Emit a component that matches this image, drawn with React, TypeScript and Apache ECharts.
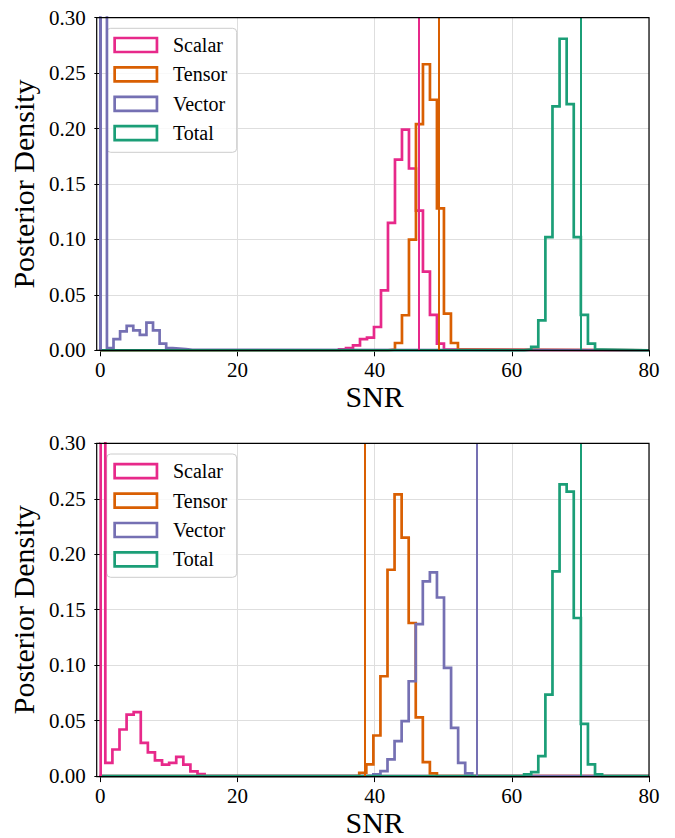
import React, { useEffect, useRef } from "react";
import * as echarts from "echarts";

// ---------- data ----------
const COMPONENTS = ["Scalar", "Tensor", "Vector", "Total"];
const COLORS = ["#e7298a", "#d95f02", "#7570b3", "#1b9e77"];
const X_MIN = 0;
const X_MAX = 80;
const X_STEP = 20;
const Y_MIN = 0;
const Y_MAX = 0.3;
const Y_STEP = 0.05;

// Top panel: histogram bins (first edge, bin width) and densities
const TOP_SCALAR_EDGE0 = 34.8;
const TOP_SCALAR_BINW = 1.02;
const TOP_SCALAR = [0.0009, 0.002, 0.0045, 0.01, 0.0114, 0.021, 0.054, 0.115, 0.172, 0.199, 0.164, 0.126, 0.071, 0.032, 0.006, 0.0006];

const TOP_TENSOR_EDGE0 = 41.94;
const TOP_TENSOR_BINW = 1.02;
const TOP_TENSOR = [0.0006, 0.0066, 0.0316, 0.0999, 0.204, 0.258, 0.226, 0.128, 0.033, 0.0066, 0.0006];

const TOP_VECTOR_EDGE0 = 0;
const TOP_VECTOR_BINW = 0.96;
const TOP_VECTOR = [0.89, 0.002, 0.01, 0.017, 0.022, 0.018, 0.014, 0.025, 0.018, 0.006, 0.002, 0.0015, 0.001, 0.0005];

const TOP_TOTAL_EDGE0 = 61.79;
const TOP_TOTAL_BINW = 1.034;
const TOP_TOTAL = [0.0006, 0.003, 0.027, 0.102, 0.22, 0.281, 0.222, 0.102, 0.032, 0.006, 0.0006];

// Top panel: true values
const TOP_TRUTH = [46.45, 49.35, 0.0, 70.0];

// Bottom panel
const BOT_SCALAR_EDGE0 = -0.31;
const BOT_SCALAR_BINW = 1.034;
const BOT_SCALAR = [0.65, 0.012, 0.024, 0.042, 0.0555, 0.0576, 0.03, 0.0214, 0.0142, 0.0103, 0.0119, 0.0173, 0.0103, 0.0043, 0.0018];

const BOT_TENSOR_EDGE0 = 37.75;
const BOT_TENSOR_BINW = 1.03;
const BOT_TENSOR = [0.003, 0.0105, 0.0366, 0.09, 0.186, 0.254, 0.215, 0.138, 0.053, 0.0126, 0.0024];

const BOT_VECTOR_EDGE0 = 38.78;
const BOT_VECTOR_BINW = 1.03;
const BOT_VECTOR = [0.0005, 0.0015, 0.0045, 0.015, 0.0315, 0.0495, 0.0855, 0.137, 0.1755, 0.1836, 0.161, 0.0975, 0.0435, 0.012, 0.0024];

const BOT_TOTAL_EDGE0 = 61.79;
const BOT_TOTAL_BINW = 1.034;
const BOT_TOTAL = [0.0015, 0.0036, 0.018, 0.0735, 0.1845, 0.263, 0.2565, 0.1425, 0.047, 0.0105, 0.0015];

const BOT_TRUTH = [0.0, 38.6, 54.9, 70.0];

// ---------- layout ----------
const W = 675;
const H = 838;
const GRID_LEFT = 96.7;
const GRID_W = 552.3;
const PANELS = [
  { top: 17.7, height: 332.6, legendTop: 35, boxTop: 28.3, boxH: 124 },
  { top: 443.3, height: 333.4, legendTop: 461.2, boxTop: 454, boxH: 123.3 },
];
const FONT = "'Liberation Serif', 'DejaVu Serif', serif";

function stepPoints(edge0: number, binw: number, dens: number[]) {
  const pts: number[][] = [[X_MIN, 0], [edge0, 0]];
  dens.forEach((d, i) => {
    const a = edge0 + i * binw;
    pts.push([a, d], [a + binw, d]);
  });
  pts.push([edge0 + dens.length * binw, 0], [X_MAX, 0]);
  return pts;
}

function buildOption() {
  const hist = [
    [
      [TOP_SCALAR_EDGE0, TOP_SCALAR_BINW, TOP_SCALAR],
      [TOP_TENSOR_EDGE0, TOP_TENSOR_BINW, TOP_TENSOR],
      [TOP_VECTOR_EDGE0, TOP_VECTOR_BINW, TOP_VECTOR],
      [TOP_TOTAL_EDGE0, TOP_TOTAL_BINW, TOP_TOTAL],
    ],
    [
      [BOT_SCALAR_EDGE0, BOT_SCALAR_BINW, BOT_SCALAR],
      [BOT_TENSOR_EDGE0, BOT_TENSOR_BINW, BOT_TENSOR],
      [BOT_VECTOR_EDGE0, BOT_VECTOR_BINW, BOT_VECTOR],
      [BOT_TOTAL_EDGE0, BOT_TOTAL_BINW, BOT_TOTAL],
    ],
  ] as any[];
  const truths = [TOP_TRUTH, BOT_TRUTH];

  const series: any[] = [];
  PANELS.forEach((_, p) => {
    COMPONENTS.forEach((name, k) => {
      const [e0, bw, d] = hist[p][k];
      series.push({
        type: "line",
        name,
        xAxisIndex: p,
        yAxisIndex: p,
        data: stepPoints(e0, bw, d),
        symbol: "none",
        showSymbol: false,
        clip: true,
        silent: true,
        z: 2,
        itemStyle: { color: COLORS[k] },
        lineStyle: { color: COLORS[k], width: 2.7, join: "miter" },
      });
    });
    series.push({
      type: "line",
      name: "truth" + p,
      xAxisIndex: p,
      yAxisIndex: p,
      data: [],
      silent: true,
      z: 3,
      markLine: {
        silent: true,
        symbol: "none",
        animation: false,
        label: { show: false },
        data: truths[p].map((v, k) => ({
          xAxis: v,
          lineStyle: { color: COLORS[k], width: 2, type: "solid" },
        })),
      },
    });
  });

  const legendData = COMPONENTS.map((name, k) => ({
    name,
    icon: "rect",
    itemStyle: { color: "rgba(0,0,0,0)", borderColor: COLORS[k], borderWidth: 2.7 },
  }));

  const graphic: any[] = [];
  PANELS.forEach((pn) => {
    graphic.push({
      type: "rect",
      z: 1,
      silent: true,
      shape: { x: 106.7, y: pn.boxTop, width: 130, height: pn.boxH, r: 4 },
      style: { fill: "rgba(255,255,255,0.8)", stroke: "#cccccc", lineWidth: 1 },
    });
    graphic.push({
      type: "rect",
      z: 100,
      silent: true,
      shape: { x: GRID_LEFT, y: pn.top, width: GRID_W, height: pn.height },
      style: { fill: "none", stroke: "#000000", lineWidth: 1.2 },
    });
  });

  return {
    animation: false,
    backgroundColor: "#ffffff",
    textStyle: { fontFamily: FONT },
    grid: PANELS.map((pn) => ({
      left: GRID_LEFT,
      top: pn.top,
      width: GRID_W,
      height: pn.height,
      containLabel: false,
    })),
    xAxis: PANELS.map((_, p) => ({
      type: "value",
      gridIndex: p,
      min: X_MIN,
      max: X_MAX,
      interval: X_STEP,
      name: "SNR",
      nameLocation: "middle",
      nameGap: 30,
      nameTextStyle: { fontFamily: FONT, fontSize: 30, color: "#000" },
      axisLine: { show: true, onZero: false, lineStyle: { color: "#000", width: 1.2 } },
      axisTick: { show: true, inside: false, length: 6, lineStyle: { color: "#000", width: 1 } },
      axisLabel: { fontFamily: FONT, fontSize: 21, color: "#000", margin: 9 },
      splitLine: { show: true, lineStyle: { color: "#dedede", width: 1 } },
    })),
    yAxis: PANELS.map((_, p) => ({
      type: "value",
      gridIndex: p,
      min: Y_MIN,
      max: Y_MAX,
      interval: Y_STEP,
      name: "Posterior Density",
      nameLocation: "middle",
      nameGap: 54,
      nameTextStyle: { fontFamily: FONT, fontSize: 30, color: "#000" },
      axisLine: { show: true, lineStyle: { color: "#000", width: 1.2 } },
      axisTick: { show: true, inside: false, length: 6, lineStyle: { color: "#000", width: 1 } },
      axisLabel: {
        fontFamily: FONT,
        fontSize: 21,
        color: "#000",
        margin: 14.7,
        formatter: (v: number) => v.toFixed(2),
      },
      splitLine: { show: true, lineStyle: { color: "#dedede", width: 1 } },
    })),
    legend: PANELS.map((pn) => ({
      orient: "vertical",
      left: 113.3,
      top: pn.legendTop,
      padding: 0,
      itemWidth: 42.3,
      itemHeight: 14,
      itemGap: 9.4,
      selectedMode: false,
      data: legendData,
      textStyle: { fontFamily: FONT, fontSize: 20, color: "#000", padding: [0, 0, 0, 11] },
    })),
    graphic,
    series,
  };
}

export default function App() {
  const ref = useRef<HTMLDivElement>(null);
  useEffect(() => {
    if (!ref.current) return;
    const chart = echarts.init(ref.current, undefined, { renderer: "svg", width: W, height: H });
    chart.setOption(buildOption() as any);
    return () => chart.dispose();
  }, []);
  return (
    <div
      ref={ref}
      style={{ position: "absolute", left: 0, top: 0, width: W, height: H, background: "#fff" }}
    />
  );
}
